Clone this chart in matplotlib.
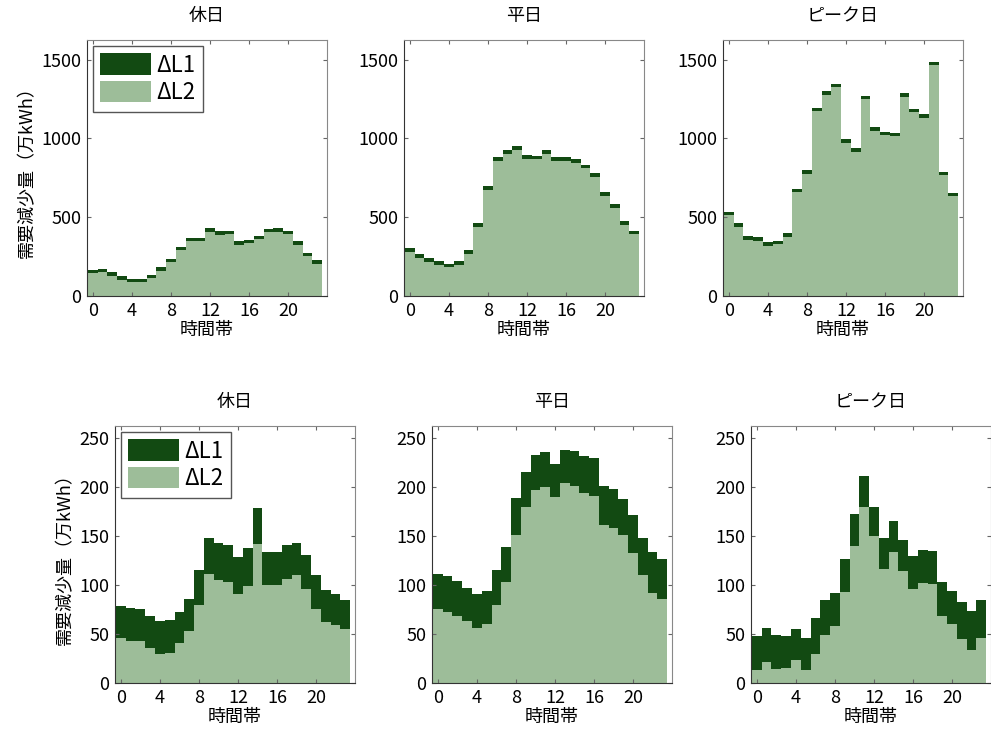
import numpy as np
import matplotlib
matplotlib.use('Agg')
import matplotlib.pyplot as plt

plt.rcParams['font.family'] = ['Noto Sans CJK JP', 'DejaVu Sans']

hours = np.arange(24)
titles = ['休日', '平日', 'ピーク日']

# 上段 (ΔL2 と ΔL1)
top_l2 = {
    '休日': [144, 152, 129, 104, 87, 87, 114, 159, 216, 291, 346, 346, 408, 389, 391, 325, 335, 359, 404, 408, 391, 325, 252, 206],
    '平日': [278, 240, 216, 195, 182, 195, 267, 438, 672, 857, 902, 927, 872, 867, 902, 857, 857, 846, 810, 757, 636, 561, 453, 391],
    'ピーク日': [513, 441, 358, 349, 317, 328, 377, 658, 775, 1173, 1279, 1324, 973, 915, 1249, 1049, 1020, 1013, 1264, 1166, 1130, 1464, 766, 632],
}
top_l1 = {
    '休日': [22, 22, 22, 22, 22, 22, 22, 22, 22, 22, 22, 22, 22, 22, 22, 22, 22, 22, 22, 22, 22, 22, 22, 22],
    '平日': [24, 24, 24, 24, 24, 24, 24, 24, 24, 24, 24, 24, 24, 24, 24, 24, 24, 24, 24, 24, 24, 24, 24, 24],
    'ピーク日': [23, 23, 23, 23, 23, 23, 23, 23, 23, 23, 23, 23, 23, 23, 23, 23, 23, 23, 23, 23, 23, 23, 23, 23],
}

# 下段 (ΔL2 と ΔL1)
bot_l2 = {
    '休日': [46, 43, 43, 36, 30, 31, 41, 53, 80, 111, 105, 103, 91, 99, 142, 100, 100, 106, 110, 96, 75, 62, 59, 55],
    '平日': [75, 72, 68, 63, 56, 60, 80, 103, 151, 179, 197, 200, 190, 204, 201, 194, 191, 161, 158, 151, 133, 110, 92, 86],
    'ピーク日': [13, 21, 14, 15, 23, 13, 30, 49, 58, 93, 140, 179, 150, 116, 134, 114, 96, 102, 101, 68, 60, 45, 34, 46],
}
bot_l1 = {
    '休日': [33, 33, 32, 32, 33, 33, 31, 33, 35, 37, 38, 38, 37, 39, 36, 34, 34, 35, 33, 34, 35, 33, 32, 30],
    '平日': [36, 37, 36, 34, 35, 34, 35, 36, 38, 36, 35, 36, 33, 34, 36, 37, 38, 40, 40, 37, 38, 38, 42, 40],
    'ピーク日': [35, 35, 35, 33, 32, 33, 36, 36, 34, 33, 32, 32, 29, 32, 31, 32, 33, 34, 34, 35, 34, 38, 39, 39],
}

dark = '#124a12'
light = '#9dbd99'

fig = plt.figure(figsize=(9.91, 7.38), dpi=100)

left_px = [[87, 404, 723], [115, 432, 751]]
rows = [(top_l2, top_l1, 40, 296, [0, 500, 1000, 1500], 1625),
        (bot_l2, bot_l1, 426, 683, [0, 50, 100, 150, 200, 250], 262)]

for r, (l2s, l1s, ytop, ybot, yticks, ymax) in enumerate(rows):
    for c, name in enumerate(titles):
        x0 = left_px[r][c]
        ax = fig.add_axes([x0 / 991, 1 - ybot / 738, 240 / 991, (ybot - ytop) / 738])
        l2 = np.array(l2s[name])
        l1 = np.array(l1s[name])
        ax.bar(hours, l1, width=1.0, bottom=l2, color=dark, linewidth=0,
               label='ΔL1')
        ax.bar(hours, l2, width=1.0, color=light, linewidth=0,
               label='ΔL2')
        ax.set_xlim(-0.6, 24.0)
        ax.set_ylim(0, ymax)
        ax.set_xticks([0, 4, 8, 12, 16, 20])
        ax.set_yticks(yticks)
        ax.tick_params(direction='in', top=True, right=True, labelsize=13,
                       length=3, color='#666666', pad=4)
        for s in ax.spines.values():
            s.set_color('#888888')
        ax.spines['bottom'].set_color('#333333')
        ax.spines['left'].set_color('#333333')
        ax.set_title(name, fontsize=13, pad=14)
        ax.set_xlabel('時間帯', fontsize=13, labelpad=1)
        if c == 0:
            ax.set_ylabel('需要減少量（万kWh）', fontsize=13, labelpad=4)
            ax.legend(loc='upper left', fontsize=16, handlelength=2.3,
                      handleheight=1.1, handletextpad=0.2, borderpad=0.35,
                      labelspacing=0.2, fancybox=False, edgecolor='#555555',
                      borderaxespad=0.25, framealpha=1)

fig.savefig('out.png', dpi=100)
